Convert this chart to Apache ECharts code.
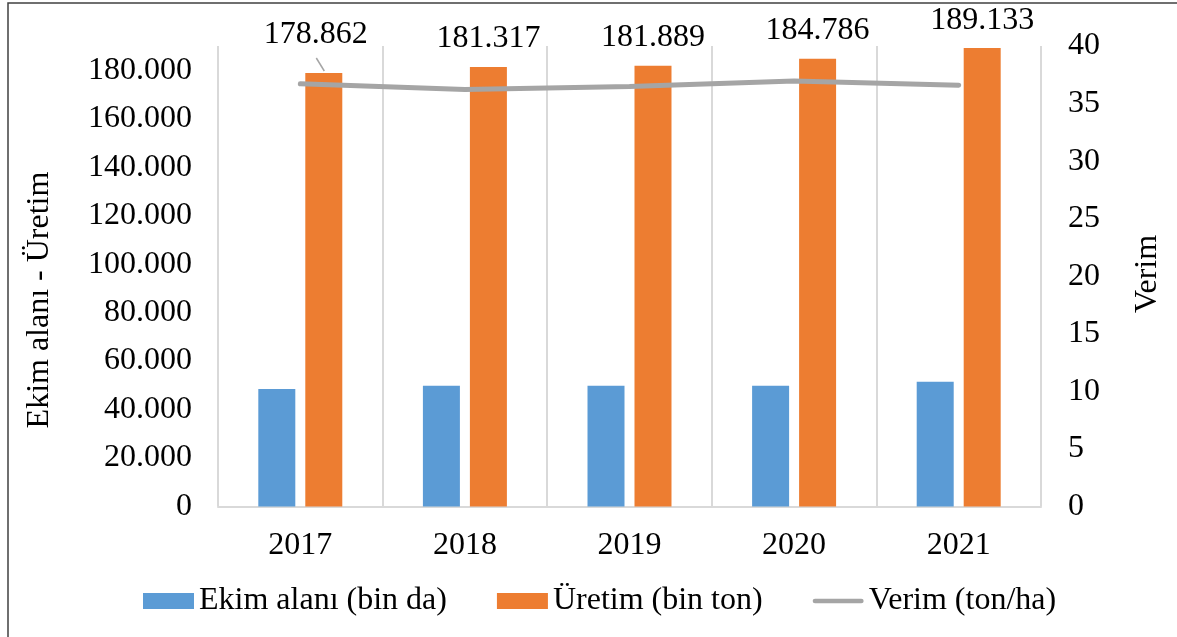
<!DOCTYPE html>
<html>
<head>
<meta charset="utf-8">
<script src="https://cdn.jsdelivr.net/npm/echarts@6/dist/echarts.min.js"></script>
<style>
  html, body { margin: 0; padding: 0; background: #fff; }
  #chart { width: 1177px; height: 637px; }
</style>
</head>
<body>
<div id="chart"></div>
<script>
const years = ["2017", "2018", "2019", "2020", "2021"];
const ekimAlani = [48500, 49800, 49800, 49800, 51500];
const uretim = [178862, 181317, 181889, 184786, 189133];
const verim = [36.72, 36.23, 36.48, 36.96, 36.6];

const FONT = "Liberation Serif";
const FS = 32;
const fmt = (v) => v === 0 ? "0" : v.toLocaleString("de-DE");
const fmtLabel = (v) => (v / 1000).toFixed(3);

const chart = echarts.init(document.getElementById("chart"));
chart.setOption({
  animation: false,
  textStyle: { fontFamily: FONT, color: "#000" },
  grid: { left: 218, right: 136, top: 46, bottom: 130.5, containLabel: false },
  legend: {
    left: 138,
    top: 580,
    itemWidth: 51,
    itemHeight: 16,
    itemGap: 50,
    textStyle: { fontFamily: FONT, fontSize: FS, color: "#000" },
    data: [
      { name: "Ekim alanı (bin da)", icon: "rect" },
      { name: "Üretim (bin ton)", icon: "rect" },
      { name: "Verim (ton/ha)", icon: "path://M2.5,0 L52.5,0 A2.5,2.5 0 0 1 52.5,5 L2.5,5 A2.5,2.5 0 0 1 2.5,0 Z" }
    ]
  },
  graphic: {
    elements: [
      {
        id: "frame",
        type: "rect",
        shape: { x: 8, y: 3, width: 1300, height: 800 },
        style: { fill: "none", stroke: "#404040", lineWidth: 1.5 },
        silent: true
      },
      {
        id: "leftTitle",
        type: "text",
        x: 40, y: 300,
        rotation: Math.PI / 2,
        style: { text: "Ekim alanı - Üretim", font: FS + "px " + FONT, fill: "#000", align: "center", verticalAlign: "middle" }
      },
      {
        id: "rightTitle",
        type: "text",
        x: 1148, y: 274,
        rotation: Math.PI / 2,
        style: { text: "Verim", font: FS + "px " + FONT, fill: "#000", align: "center", verticalAlign: "middle" }
      }
    ]
  },
  xAxis: {
    type: "category",
    data: years,
    axisLine: { lineStyle: { color: "#D9D9D9", width: 2 } },
    axisTick: { show: false },
    splitLine: { show: true, lineStyle: { color: "#D9D9D9", width: 2 } },
    axisLabel: { fontSize: FS, color: "#000", fontFamily: FONT, margin: 23 }
  },
  yAxis: [
    {
      type: "value",
      min: 0,
      max: 190000,
      interval: 20000,
      axisLine: { show: false },
      axisTick: { show: false },
      splitLine: { show: false },
      axisLabel: {
        fontSize: FS, color: "#000", fontFamily: FONT, margin: 26,
        showMaxLabel: false,
        formatter: (v) => v === 190000 ? "" : fmt(v)
      }
    },
    {
      type: "value",
      min: 0,
      max: 40,
      interval: 5,
      axisLine: { show: false },
      axisTick: { show: false },
      splitLine: { show: false },
      axisLabel: { fontSize: FS, color: "#000", fontFamily: FONT, margin: 27 }
    }
  ],
  series: [
    {
      name: "Ekim alanı (bin da)",
      type: "bar",
      data: ekimAlani,
      barWidth: 37,
      barGap: "27%",
      itemStyle: { color: "#5B9BD5" }
    },
    {
      name: "Üretim (bin ton)",
      type: "bar",
      data: uretim,
      barWidth: 37,
      itemStyle: { color: "#ED7D31" },
      label: {
        show: true,
        position: "top",
        distance: 12,
        fontSize: FS,
        fontFamily: FONT,
        color: "#000",
        formatter: (p) => fmtLabel(p.value)
      },
      labelLayout: (p) => p.dataIndex === 0 ? { dx: -8, dy: -10 } : {}
    },
    {
      name: "Verim (ton/ha)",
      type: "line",
      yAxisIndex: 1,
      data: verim,
      symbol: "none",
      z: 5,
      lineStyle: { color: "#A5A5A5", width: 5, cap: "round" },
      itemStyle: { color: "#A5A5A5" }
    }
  ]
});

// leader line for the moved 2017 label, anchored at the bar top
const top0 = chart.convertToPixel({ seriesIndex: 1 }, [0, uretim[0]]);
const bx = top0[0] + 24; // second bar of the pair sits right of the category centre
chart.setOption({
  graphic: {
    elements: [
      {
        id: "leader",
        type: "line",
        z: 10,
        shape: { x1: bx, y1: top0[1] - 2, x2: bx - 8, y2: top0[1] - 15 },
        style: { stroke: "#A5A5A5", lineWidth: 1.5 },
        silent: true
      }
    ]
  }
});
</script>
</body>
</html>
